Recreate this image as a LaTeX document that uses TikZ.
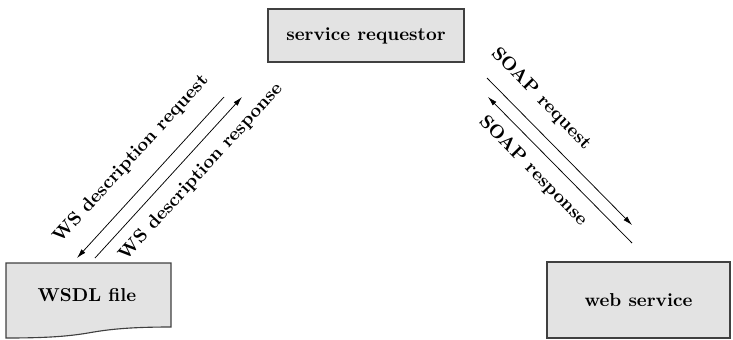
\documentclass[tikz,border=0pt]{standalone}
\usetikzlibrary{arrows.meta}
\definecolor{boxfill}{HTML}{E3E3E3}
\definecolor{boxline}{HTML}{404040}
\begin{document}
\begin{tikzpicture}[x=0.535pt,y=-0.535pt,
  box/.style={draw=boxline,fill=boxfill,line width=0.6pt,font=\bfseries,inner sep=0pt},
  msg/.style={line width=0.4pt,-{Latex[length=5pt,width=2.8pt]}},
  lbl/.style={font=\bfseries,inner sep=0pt}]
\useasboundingbox (0,0) rectangle (733,339);
% nodes
\node[box,minimum width=104.9pt,minimum height=28.4pt] (req) at (366,35.5) {service requestor};
\node[box,minimum width=97.9pt,minimum height=40.7pt] (ws) at (638.5,300) {web service};
\fill[boxfill,draw=boxline,line width=0.6pt] (6,263) -- (171,263) -- (171,327)
  .. controls (125,327) and (105,330) .. (88,333)
  .. controls (70,336) and (50,338) .. (6,338) -- cycle;
\node[lbl] (wsdl) at (87,295) {WSDL file};
% connector end points
\coordinate (a1) at (224,97);
\coordinate (a2) at (77,258);
\coordinate (b1) at (95,258);
\coordinate (b2) at (242,97);
\coordinate (c1) at (487,78);
\coordinate (c2) at (632,225);
\coordinate (d1) at (632,243);
\coordinate (d2) at (488,97);
\draw[msg] (a1) -- (a2);
\draw[msg] (b1) -- (b2);
\draw[msg] (c1) -- (c2);
\draw[msg] (d1) -- (d2);
% labels
\node[lbl,rotate=47.6] (l1) at (131,159) {WS description request};
\node[lbl,rotate=47.6] (l2) at (201,172) {WS description response};
\node[lbl,rotate=-45.6] (l3) at (541,99) {SOAP request};
\node[lbl,rotate=-45.6] (l4) at (533,171) {SOAP response};
\end{tikzpicture}
\end{document}
